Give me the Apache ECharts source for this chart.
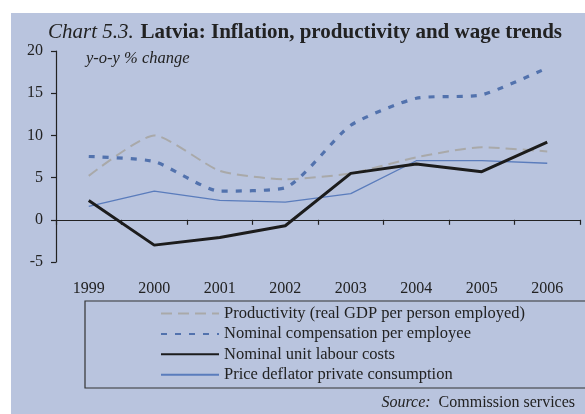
<!DOCTYPE html>
<html>
<head>
<meta charset="utf-8">
<script src="https://cdn.jsdelivr.net/npm/echarts@6/dist/echarts.min.js"></script>
<style>
  html, body { margin: 0; padding: 0; background: #ffffff; }
  #chart { width: 585px; height: 414px; }
</style>
</head>
<body>
<div id="chart"></div>
<script>
// Years on the horizontal axis
const years = ['1999', '2000', '2001', '2002', '2003', '2004', '2005', '2006'];

// Year-on-year % change for each indicator
const productivity = [5.2, 10.0, 5.8, 4.8, 5.5, 7.4, 8.6, 8.1];
const compensation = [7.5, 6.9, 3.4, 3.8, 11.2, 14.4, 14.8, 18.0];
const unitLabourCosts = [2.3, -3.0, -2.1, -0.7, 5.5, 6.6, 5.7, 9.2];
const priceDeflator = [1.6, 3.4, 2.3, 2.1, 3.1, 7.0, 7.0, 6.7];

// Series names shown in the legend
const seriesNames = [
  'Productivity (real GDP per person employed)',
  'Nominal compensation per employee',
  'Nominal unit labour costs',
  'Price deflator private consumption'
];

const serif = '"Liberation Serif", "Times New Roman", serif';
const ink = '#222222';

const chart = echarts.init(document.getElementById('chart'));

chart.setOption({
  animation: false,
  backgroundColor: '#ffffff',
  textStyle: { fontFamily: serif, color: ink },
  graphic: [
    {
      type: 'rect', z: -10, silent: true,
      shape: { x: 11, y: 13, width: 574, height: 401 },
      style: { fill: '#b9c4de' }
    },
    {
      type: 'rect', z: 5, silent: true,
      shape: { x: 85, y: 301, width: 520, height: 87 },
      style: { fill: 'none', stroke: '#333333', lineWidth: 1.2 }
    },
    {
      type: 'text', z: 5,
      left: 48, top: 22,
      style: {
        text: '{i|Chart 5.3.}  {b|Latvia: Inflation, productivity and wage trends}',
        rich: {
          i: { fontFamily: serif, fontStyle: 'italic', fontSize: 21, fill: ink },
          b: { fontFamily: serif, fontWeight: 'bold', fontSize: 21, fill: ink }
        }
      }
    },
    {
      type: 'text', z: 5,
      left: 86, top: 50,
      style: {
        text: 'y-o-y % change',
        fontFamily: serif, fontStyle: 'italic', fontSize: 16.5, fill: ink
      }
    },
    {
      type: 'text', z: 5,
      right: 10, top: 395,
      style: {
        text: '{i|Source:}  Commission services',
        fontFamily: serif, fontSize: 16, fill: ink,
        rich: {
          i: { fontFamily: serif, fontStyle: 'italic', fontSize: 16, fill: ink }
        }
      }
    }
  ],
  legend: {
    show: true,
    orient: 'vertical',
    left: 155, top: 300,
    itemWidth: 58, itemHeight: 14, itemGap: 3.4,
    itemStyle: { opacity: 0 },
    textStyle: { fontFamily: serif, fontSize: 16.5, color: ink },
    data: seriesNames
  },
  grid: { left: 56, right: 5, top: 51, bottom: 152, containLabel: false },
  xAxis: [
    {
      type: 'category', data: years, position: 'bottom',
      boundaryGap: true,
      axisLine: { onZero: true, lineStyle: { color: ink, width: 1.2 } },
      axisTick: { show: true, inside: false, length: 5, lineStyle: { color: ink, width: 1.2 } },
      axisLabel: { show: false },
      splitLine: { show: false }
    },
    {
      type: 'category', data: years, position: 'bottom',
      boundaryGap: true,
      axisLine: { show: false, onZero: false },
      axisTick: { show: false },
      axisLabel: { margin: 19, fontFamily: serif, fontSize: 16, color: ink },
      splitLine: { show: false }
    }
  ],
  yAxis: {
    type: 'value', min: -5, max: 20, interval: 5,
    axisLine: { show: true, lineStyle: { color: ink, width: 1.2 } },
    axisTick: { show: true, inside: false, length: 5, lineStyle: { color: ink, width: 1.2 } },
    axisLabel: { margin: 13, fontFamily: serif, fontSize: 16, color: ink },
    splitLine: { show: false }
  },
  series: [
    {
      name: seriesNames[0], type: 'line', data: productivity,
      xAxisIndex: 0, symbol: 'none', smooth: 0.2, z: 3,
      itemStyle: { color: '#a9a9a9' },
      lineStyle: { color: '#a9a9a9', width: 2, type: [11, 6] }
    },
    {
      name: seriesNames[1], type: 'line', data: compensation,
      xAxisIndex: 0, symbol: 'none', smooth: 0.2, z: 4,
      itemStyle: { color: '#5272ad' },
      lineStyle: { color: '#5272ad', width: 3.2, type: [6, 8] }
    },
    {
      name: seriesNames[2], type: 'line', data: unitLabourCosts,
      xAxisIndex: 0, symbol: 'none', z: 5,
      itemStyle: { color: '#1c1c1c' },
      lineStyle: { color: '#1c1c1c', width: 3 }
    },
    {
      name: seriesNames[3], type: 'line', data: priceDeflator,
      xAxisIndex: 0, symbol: 'none', z: 4,
      itemStyle: { color: '#5a7cbc' },
      lineStyle: { color: '#5a7cbc', width: 1.3 }
    }
  ]
});
</script>
</body>
</html>
